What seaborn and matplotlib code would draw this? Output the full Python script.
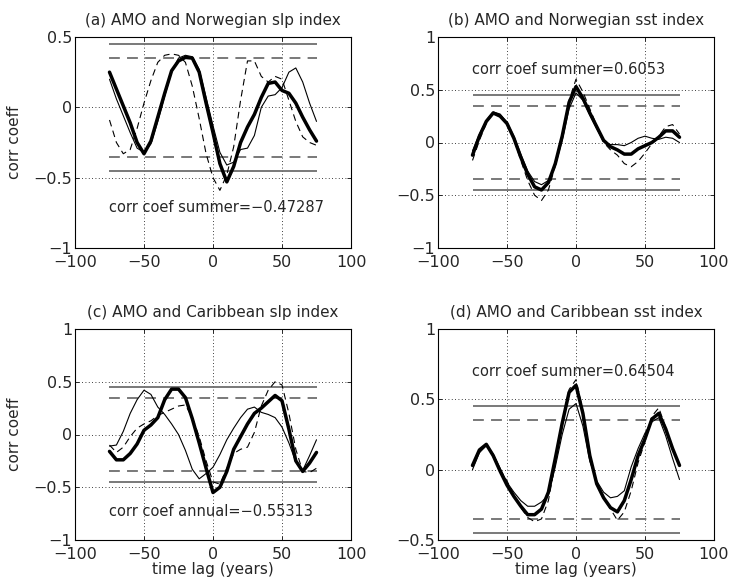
import numpy as np
import pandas as pd
import matplotlib
matplotlib.use("Agg")
import matplotlib.pyplot as plt
import seaborn as sns

# lags (years)
lag = list(range(-75, 80, 5))

# (a) AMO and Norwegian slp index
a_thick = [0.25, 0.13, 0.01, -0.11, -0.25, -0.33, -0.24, -0.07, 0.10, 0.26, 0.33, 0.355,
           0.35, 0.25, 0.03, -0.18, -0.40, -0.53, -0.42, -0.25, -0.14, -0.05, 0.07, 0.17,
           0.18, 0.12, 0.10, 0.03, -0.07, -0.16, -0.24]
a_thin = [0.20, 0.06, -0.06, -0.18, -0.29, -0.32, -0.26, -0.10, 0.08, 0.25, 0.35, 0.37,
          0.36, 0.27, 0.07, -0.13, -0.32, -0.41, -0.39, -0.30, -0.29, -0.20, 0.00, 0.08,
          0.09, 0.14, 0.25, 0.28, 0.18, 0.03, -0.10]
a_dash = [-0.09, -0.25, -0.33, -0.30, -0.15, 0.03, 0.19, 0.32, 0.37, 0.38, 0.37, 0.32,
          0.15, -0.08, -0.33, -0.50, -0.59, -0.48, -0.28, 0.05, 0.33, 0.33, 0.22, 0.18,
          0.22, 0.20, 0.05, -0.10, -0.21, -0.25, -0.27]

# (b) AMO and Norwegian sst index
b_thick = [-0.12, 0.06, 0.20, 0.28, 0.25, 0.18, 0.04, -0.14, -0.30, -0.42, -0.45, -0.38,
           -0.20, 0.06, 0.38, 0.53, 0.42, 0.28, 0.15, 0.02, -0.04, -0.07, -0.11, -0.11,
           -0.06, -0.03, 0.00, 0.05, 0.11, 0.11, 0.05]
b_thin = [-0.08, 0.08, 0.21, 0.29, 0.27, 0.19, 0.06, -0.11, -0.27, -0.37, -0.40, -0.36,
          -0.22, 0.02, 0.32, 0.47, 0.40, 0.26, 0.13, 0.01, -0.02, -0.02, -0.03, 0.00,
          0.04, 0.06, 0.04, 0.03, 0.05, 0.04, 0.00]
b_dash = [-0.17, 0.02, 0.18, 0.28, 0.26, 0.18, 0.03, -0.17, -0.36, -0.50, -0.55, -0.45,
          -0.22, 0.05, 0.40, 0.60, 0.48, 0.32, 0.16, 0.00, -0.07, -0.12, -0.20, -0.23,
          -0.18, -0.10, -0.01, 0.06, 0.15, 0.17, 0.08]

# (c) AMO and Caribbean slp index
c_thick = [-0.16, -0.24, -0.24, -0.18, -0.09, 0.04, 0.09, 0.16, 0.33, 0.43, 0.43, 0.35,
           0.15, -0.08, -0.32, -0.55, -0.50, -0.35, -0.14, -0.02, 0.10, 0.20, 0.25, 0.31,
           0.37, 0.32, 0.05, -0.25, -0.35, -0.27, -0.17]
c_thin = [-0.11, -0.10, 0.03, 0.20, 0.33, 0.42, 0.38, 0.26, 0.19, 0.10, 0.00, -0.15,
          -0.33, -0.42, -0.37, -0.31, -0.19, -0.05, 0.06, 0.16, 0.24, 0.26, 0.21, 0.19,
          0.16, 0.07, -0.08, -0.26, -0.34, -0.20, -0.05]
c_dash = [-0.10, -0.17, -0.12, -0.02, 0.06, 0.10, 0.13, 0.18, 0.21, 0.24, 0.27, 0.28,
          0.16, -0.02, -0.25, -0.45, -0.47, -0.32, -0.18, -0.14, -0.12, 0.02, 0.27, 0.42,
          0.50, 0.47, 0.20, -0.14, -0.35, -0.36, -0.32]

# (d) AMO and Caribbean sst index
d_thick = [0.03, 0.14, 0.18, 0.10, -0.01, -0.11, -0.19, -0.26, -0.32, -0.32, -0.28, -0.16,
           0.08, 0.33, 0.55, 0.60, 0.40, 0.10, -0.10, -0.20, -0.27, -0.30, -0.22, -0.07,
           0.10, 0.22, 0.36, 0.40, 0.29, 0.15, 0.03]
d_thin = [0.00, 0.12, 0.17, 0.11, 0.01, -0.09, -0.16, -0.22, -0.26, -0.26, -0.23, -0.18,
          0.02, 0.25, 0.43, 0.47, 0.31, 0.06, -0.08, -0.16, -0.20, -0.19, -0.15, 0.02,
          0.15, 0.26, 0.34, 0.37, 0.24, 0.08, -0.07]
d_dash = [0.02, 0.14, 0.18, 0.11, 0.00, -0.08, -0.18, -0.27, -0.34, -0.37, -0.35, -0.22,
          0.05, 0.33, 0.57, 0.64, 0.42, 0.11, -0.10, -0.20, -0.28, -0.36, -0.30, -0.15,
          0.05, 0.20, 0.38, 0.44, 0.30, 0.15, 0.04]

# significance levels
sig_solid = 0.45
sig_dash = 0.35

titles = ["(a) AMO and Norwegian slp index", "(b) AMO and Norwegian sst index",
          "(c) AMO and Caribbean slp index", "(d) AMO and Caribbean sst index"]
notes = ["corr coef summer=\u22120.47287", "corr coef summer=0.6053",
         "corr coef annual=\u22120.55313", "corr coef summer=0.64504"]
note_y = [-0.71, 0.69, -0.73, 0.70]
ylims = [(-1, 0.5), (-1, 1), (-1, 1), (-0.5, 1)]
xticks = [-100, -50, 0, 50, 100]

sns.set_style("ticks")
plt.rcParams["font.family"] = ["DejaVu Sans"]

fig = plt.figure(figsize=(7.29, 5.87), dpi=100)
w, h = 276 / 729, 211 / 587
pos = [(75 / 729, 1 - 248 / 587), (438 / 729, 1 - 248 / 587),
       (75 / 729, 1 - 540 / 587), (438 / 729, 1 - 540 / 587)]

panels = [(a_thick, a_thin, a_dash), (b_thick, b_thin, b_dash),
          (c_thick, c_thin, c_dash), (d_thick, d_thin, d_dash)]


def fmt(v):
    return f"{v:g}".replace("-", "\u2212")


for i, (thick, thin, dash) in enumerate(panels):
    ax = fig.add_axes([pos[i][0], pos[i][1], w, h])
    df = pd.DataFrame({"lag": lag, "thick": thick, "thin": thin, "dash": dash})

    # significance lines
    ax.hlines([sig_solid, -sig_solid], -75, 75, colors="#6e6e6e", linewidth=1.3)
    ax.hlines([sig_dash, -sig_dash], -75, 75, colors="#6e6e6e", linewidth=1.3,
              linestyles=(0, (6, 4)))

    sns.lineplot(data=df, x="lag", y="dash", ax=ax, color="black", linewidth=0.8,
                 linestyle=(0, (6, 4)), sort=False)
    sns.lineplot(data=df, x="lag", y="thin", ax=ax, color="black", linewidth=0.8, sort=False)
    sns.lineplot(data=df, x="lag", y="thick", ax=ax, color="black", linewidth=2.5, sort=False)

    yt = np.arange(ylims[i][0], ylims[i][1] + 0.01, 0.5)
    ax.set_xlim(-100, 100)
    ax.set_ylim(*ylims[i])
    ax.set_xticks(xticks)
    ax.set_xticklabels([fmt(v) for v in xticks])
    ax.set_yticks(yt)
    ax.set_yticklabels([fmt(v) for v in yt])
    ax.grid(True, color="black", linestyle=(0, (1, 3)), linewidth=0.6)
    ax.tick_params(direction="in", length=3, top=True, right=True, labelsize=11.5,
                   width=0.7)
    ax.tick_params(axis="x", pad=5)
    ax.tick_params(axis="y", pad=2)
    for s in ax.spines.values():
        s.set_linewidth(0.8)
        s.set_color("black")

    ax.set_title(titles[i], fontsize=11, pad=9)
    ax.text(-75, note_y[i], notes[i], fontsize=10.5, va="center", ha="left")

    ax.set_xlabel("time lag (years)" if i >= 2 else "", fontsize=11, labelpad=0)
    ax.set_ylabel("corr coeff" if i % 2 == 0 else "", fontsize=11, labelpad=8)

fig.savefig("out.png", dpi=100)
